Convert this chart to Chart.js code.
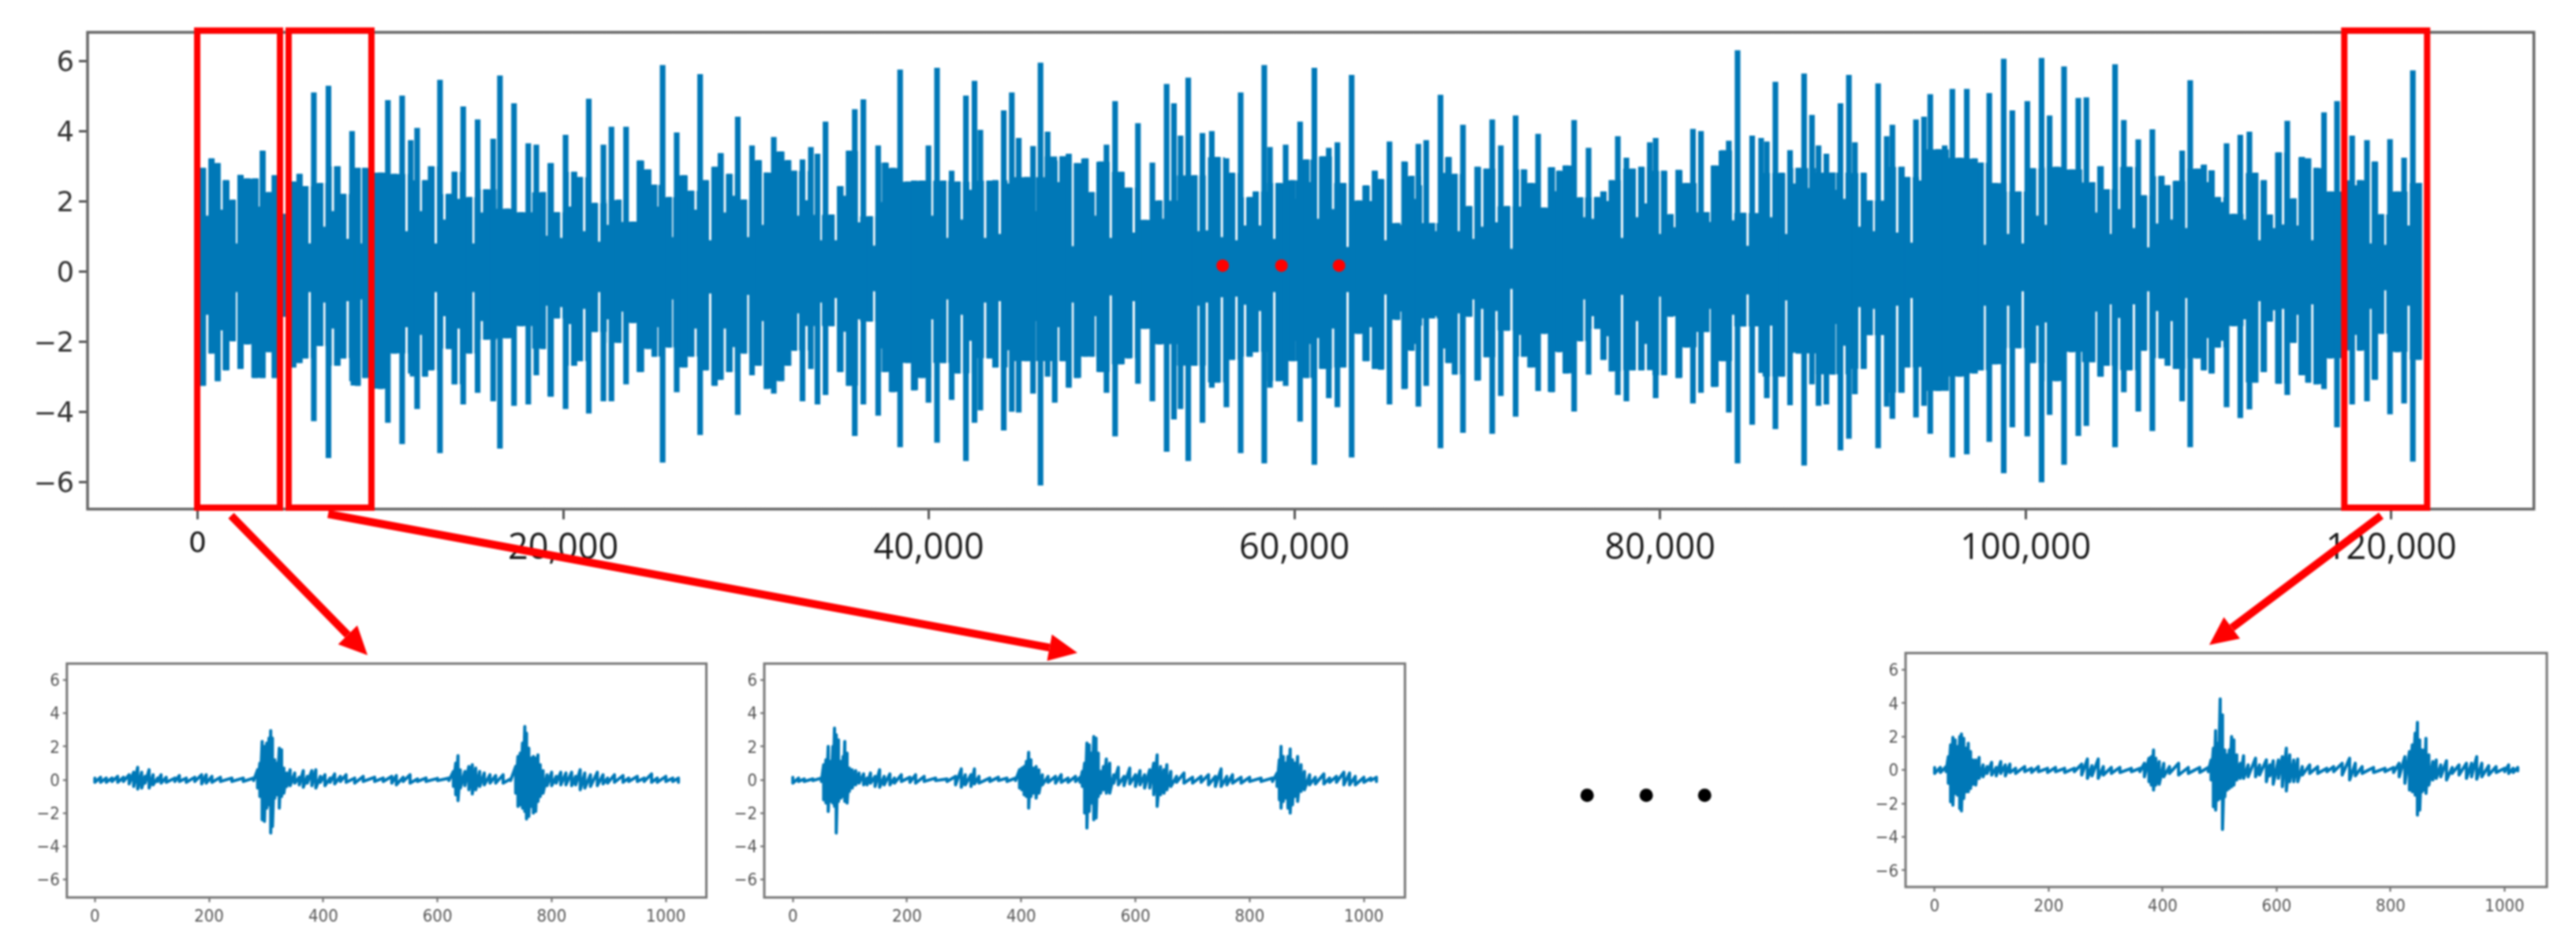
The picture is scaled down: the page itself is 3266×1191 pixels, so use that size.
<!DOCTYPE html>
<html>
<head>
<meta charset="utf-8">
<title>waveform</title>
<script src="https://cdn.jsdelivr.net/npm/chart.js@4/dist/chart.umd.min.js"></script>
<style>
  html, body { margin: 0; padding: 0; background: #fff; }
  body { width: 3266px; height: 1191px; position: relative; overflow: hidden; }
  canvas { position: absolute; display: block; }
  #main { left: 0; top: 0; filter: blur(0.8px); }
  .inset { filter: blur(1px); }
</style>
</head>
<body>
<canvas id="main" width="3266" height="1191"></canvas>
<canvas id="inset1" class="inset" width="900" height="370" style="left:0;top:820px"></canvas>
<canvas id="inset2" class="inset" width="900" height="370" style="left:900px;top:820px"></canvas>
<canvas id="inset3" class="inset" width="900" height="370" style="left:2340px;top:810px"></canvas>
<script>
// top waveform, one column per peak
var columnX = [
  290,760,1110,1550,1940,2330,2720,3160,3550,3900,4210,4680,5230,5580,5910,6360,6720,7160,7660,7980,8450,8760,9150,10020,10410,10770,11190,11660,12010,12450,12760,13260,13750,14050,14530,14880,15320,15790,16170,16540,16920,17310,17700,18090,18530,18910,19320,19660,20130,20600,20920,21400,21730,22200,22640,23040,23440,23820,24210,
  24650,25000,25440,25800,26210,26610,27010,27490,27790,28290,28610,29090,29550,29910,30330,30690,31120,31520,31900,32310,32650,33090,33550,33910,34350,34690,35160,35630,35950,36420,36780,37230,37590,38030,38430,38850,39190,39630,39980,40450,40810,41250,41590,42030,42500,42820,43320,43630,44100,44540,44920,45360,45700,46110,46500,46890,47320,47660,48100,48570,48920,
  49410,49720,50190,50500,50930,51440,51810,52230,52620,53010,53410,53770,54190,54550,54970,55480,55790,56280,56590,57060,57560,57880,58350,58660,59130,59520,59910,60310,60670,61090,61560,61880,62350,62660,63130,63520,63910,64390,64730,65200,65640,66000,66420,66780,67210,67550,67990,68430,68780,69220,69560,70000,70500,70820,71290,71630,72100,72540,72930,73330,73640,
  74080,74470,74860,75300,75650,76090,76560,76900,77340,77690,78160,78500,78970,79440,79760,80200,80590,81000,81450,81800,82240,82550,82970,83440,83760,84240,84560,85040,85530,85840,86310,86660,87110,87570,87880,88310,88670,89100,89450,89870,90330,90660,91130,91490,91930,92400,92710,93220,93530,94000,94440,94780,95220,95570,95990,96380,96780,97210,97560,98010,98310,
  98800,99270,99620,100090,100400,100870,101310,101690,102100,102520,102880,103320,103660,104100,104450,104890,105370,105660,106160,106470,106930,107430,107770,108240,108560,109000,109390,109760,110170,110520,110990,111380,111740,112240,112570,113030,113370,113840,114310,114670,115110,115460,115900,116320,116670,117030,117860,118280,118670,119100,119460,119930,120320,120700,121180,121530
];
var columnHi = [
  2.95,3.22,3.09,2.60,2.04,2.75,2.65,2.65,3.44,2.26,2.74,1.64,2.56,2.78,2.43,5.10,2.52,5.29,3.00,2.21,4.00,2.95,2.95,2.82,4.88,2.78,5.01,3.74,4.09,2.60,3.00,5.46,2.21,2.84,4.70,2.12,4.33,2.34,3.78,5.58,1.79,4.79,1.69,3.65,3.61,2.26,3.09,1.69,3.89,2.84,2.69,4.92,1.95,3.61,4.12,2.04,4.12,1.42,3.16,
  2.91,2.47,5.88,2.12,3.96,2.74,2.30,5.62,2.60,2.98,3.37,2.78,4.41,2.05,3.59,3.17,2.82,3.83,3.42,3.17,2.87,3.19,3.54,3.35,4.27,1.62,2.43,3.44,4.62,4.90,1.57,3.59,3.10,2.95,5.75,2.56,2.59,2.59,3.59,5.80,2.59,2.87,2.56,5.01,5.43,4.03,2.59,2.60,4.59,5.10,3.80,2.69,3.57,5.95,3.98,3.16,3.28,3.35,3.09,3.22,2.26,
  3.13,3.61,4.85,2.84,2.39,4.22,1.47,3.10,2.02,5.34,4.79,3.87,5.52,2.74,3.94,4.00,3.26,3.22,2.81,5.10,2.12,2.28,5.88,3.54,2.52,3.61,2.60,4.27,3.19,5.80,3.28,3.52,3.68,2.52,5.60,2.02,2.45,2.87,2.63,3.70,1.38,3.13,2.72,3.63,3.74,1.38,5.03,3.26,2.78,4.18,1.86,2.98,2.93,4.33,3.59,1.86,4.44,2.91,2.52,3.92,1.82,
  2.97,2.87,3.02,4.31,2.11,3.52,2.12,2.28,2.60,3.85,3.24,2.93,2.98,3.68,3.80,2.87,1.63,2.89,2.52,4.06,4.00,1.69,3.02,3.45,3.72,6.30,1.67,3.87,3.80,3.70,5.40,2.81,3.45,2.95,5.64,4.46,3.59,3.35,2.82,4.79,5.60,3.68,2.81,2.02,5.36,3.85,4.18,2.98,2.69,4.33,4.41,5.05,3.48,3.59,5.20,3.24,5.20,3.22,3.10,5.08,2.52,
  6.06,4.59,2.28,4.85,2.94,6.08,4.44,2.98,5.84,2.91,4.94,4.96,2.54,3.00,2.34,5.90,4.31,2.98,3.76,2.17,4.05,2.72,2.46,2.58,3.44,5.45,2.93,3.04,2.88,2.12,3.65,1.64,3.89,3.98,2.81,2.60,1.62,3.39,4.29,2.08,3.26,3.22,2.95,4.53,2.28,4.85,3.87,2.60,3.74,3.13,1.63,3.77,2.28,3.24,5.73,2.52
];
var columnLo = [
  -3.25,-2.33,-3.12,-2.81,-1.98,-2.77,-2.07,-3.03,-3.03,-2.29,-3.03,-1.28,-2.73,-2.60,-2.47,-4.26,-2.12,-5.31,-2.68,-2.47,-3.12,-3.25,-3.03,-3.34,-4.30,-2.33,-4.91,-2.90,-3.91,-2.99,-2.81,-5.17,-2.20,-3.21,-3.78,-2.33,-3.45,-1.94,-3.69,-5.04,-1.90,-3.82,-1.55,-3.78,-2.95,-2.20,-3.56,-1.33,-3.91,-2.68,-2.55,-4.04,-1.72,-3.69,-3.69,-2.03,-3.21,-1.46,-2.86,
  -2.20,-2.42,-5.44,-2.16,-3.43,-2.73,-2.42,-4.65,-2.81,-3.25,-3.08,-2.86,-4.08,-2.33,-2.95,-2.68,-3.34,-3.47,-3.12,-2.68,-2.25,-3.69,-2.77,-3.78,-3.51,-1.55,-2.86,-3.25,-4.68,-3.78,-1.42,-4.10,-2.86,-3.43,-5.00,-2.60,-3.38,-3.03,-3.73,-4.87,-2.60,-3.65,-2.90,-5.39,-4.30,-3.95,-2.47,-2.73,-4.52,-3.99,-4.01,-2.55,-3.47,-6.09,-2.99,-3.73,-2.55,-3.30,-3.03,-2.42,-2.42,
  -2.86,-3.45,-4.69,-2.64,-2.47,-3.19,-1.63,-3.69,-2.07,-5.13,-4.21,-3.91,-5.39,-2.68,-4.30,-3.30,-3.16,-3.86,-2.51,-5.17,-2.42,-2.29,-5.46,-3.30,-3.12,-3.25,-2.55,-4.27,-3.03,-5.50,-2.77,-3.60,-3.86,-2.73,-5.29,-1.77,-2.55,-2.77,-2.79,-3.78,-1.37,-3.34,-2.25,-3.84,-3.25,-1.33,-5.03,-2.60,-2.93,-4.59,-1.28,-3.10,-2.44,-4.62,-3.54,-1.68,-4.13,-2.42,-2.73,-3.40,-1.77,
  -3.43,-2.29,-2.90,-3.98,-1.98,-2.93,-1.63,-2.51,-2.84,-3.51,-3.69,-2.81,-2.81,-2.77,-3.60,-2.95,-1.28,-3.03,-2.16,-3.75,-3.45,-1.72,-3.28,-2.55,-4.01,-5.46,-1.56,-4.36,-2.88,-3.60,-4.48,-2.99,-3.80,-2.33,-5.52,-3.21,-3.82,-3.78,-2.93,-5.09,-4.76,-3.49,-2.77,-1.81,-5.03,-3.84,-4.19,-3.45,-2.73,-4.15,-3.82,-4.62,-3.40,-3.31,-5.29,-2.99,-5.20,-2.90,-2.81,-4.85,-2.64,
  -5.74,-4.43,-2.18,-4.69,-2.60,-6.00,-4.08,-3.12,-5.50,-2.29,-4.68,-4.39,-2.58,-2.99,-2.68,-5.00,-3.43,-2.81,-3.98,-2.25,-4.54,-2.47,-2.68,-2.77,-3.69,-5.00,-2.47,-2.81,-2.90,-2.16,-3.86,-1.55,-4.17,-3.92,-3.16,-2.86,-1.42,-3.19,-3.51,-2.03,-2.95,-3.16,-3.21,-3.34,-2.47,-4.43,-3.78,-2.25,-3.69,-3.08,-1.77,-4.06,-2.29,-3.75,-5.41,-2.51
];
// thin pale gaps in the body, how far towards zero each one reaches
var notchX = [
  530,1310,2130,3400,6130,6930,7400,8210,8990,11430,12210,13030,13500,14280,15080,15550,16840,19080,19900,20370,21150,21970,22450,23240,
  25150,25955,27240,28040,28840,29330,30110,30930,32840,33310,34090,34910,35400,36180,37010,37470,40180,41000,41800,42280,43080,43880,44370,45800,47080,47870,49090,
  49950,51210,52810,54740,55210,56030,56830,57300,58110,58900,59990,60810,61280,62110,62910,64180,64980,65800,66580,67000,67710,68180,68980,69800,70270,71050,71870,72350,73530,
  74320,75840,76320,77140,77920,78740,79220,80010,80790,82710,84000,84790,86080,86910,87350,88160,89580,90080,90910,91690,92160,92970,93760,94230,97760,
  99040,99840,100640,101110,103850,104640,105110,105920,106710,107190,107980,108790,109940,110750,111220,111980,112790,113580,114080,114860,115680,118050,118860,119660,120950
];
var notchHi = [
  1.60,1.77,.81,1.86,.81,1.29,1.73,.94,.81,1.16,1.73,.81,1.49,2.08,.81,1.69,1.79,1.03,.97,1.86,1.16,.86,1.34,1.42,
  1.86,.99,1.77,.90,1.69,2.17,.99,1.34,1.60,2.04,.90,.90,2.17,1.41,.75,1.99,1.60,.97,1.49,2.34,.97,1.08,2.52,1.73,2.56,.73,1.60,
  .97,1.12,1.51,1.16,1.18,.99,.90,1.32,1.32,.94,2.08,2.56,1.51,1.79,.71,2.02,.90,1.34,2.08,2.47,1.16,2.82,1.16,.94,1.29,1.41,.66,1.86,1.86,
  2.30,1.56,1.51,2.02,.97,1.56,1.95,1.08,1.27,1.42,1.47,.74,1.56,1.08,2.52,2.39,2.34,2.08,1.29,1.16,2.32,1.12,.83,2.60,.77,
  1.08,.81,1.60,1.34,1.69,1.08,1.79,1.25,.70,1.38,1.49,1.25,2.56,1.99,1.69,1.49,.90,1.25,1.35,1.32,.90,2.47,.81,.77,1.32
];
var notchLo = [
  -1.24,-1.68,-.59,null,-.59,-.89,-1.63,-.85,-.80,-1.59,-1.81,-.59,-1.28,-1.63,-.59,-1.42,null,-.98,-1.02,-1.50,-1.07,-.59,-1.37,-1.15,
  -1.59,-.80,-1.63,-.63,-1.63,-2.16,-.67,-1.42,-1.20,-1.56,-.89,-.76,-1.72,-1.37,-.57,-2.20,-1.37,-.80,-1.24,-1.98,-.89,-.85,-2.25,-1.42,-1.59,-.89,-1.28,
  -.69,-.85,null,-.98,-.89,-.74,-.72,-.95,-1.13,-.59,-1.98,-2.07,-1.90,-1.63,-.59,-1.59,-.66,-1.15,-2.07,-1.55,-1.28,-2.20,-1.20,-.80,-1.07,-1.13,-.50,-1.81,-1.77,
  -2.29,-.80,-1.28,-1.85,-.67,-1.42,-2.07,-.72,-1.28,-1.07,-1.24,-.66,-1.55,-.83,-2.32,-2.77,-1.50,-2.12,-1.02,-1.07,-2.32,-.98,-.76,-2.73,-.98,
  -.98,-.57,-1.55,-1.46,-1.15,-.94,-1.33,-.94,-.57,-1.13,-1.42,-.76,-1.90,-1.98,-1.63,-1.37,-.85,-1.11,-1.07,-1.24,-.94,-1.81,-1.07,-.54,-.98
];
// red ". . ." on the waveform and black ". . ." between the small plots
var redDotX = [56075, 59290, 62440];
var redDotY = [0.17, 0.17, 0.17];
var blackDotX = [76010, 79245, 82440];
var blackDotY = [-14.93, -14.93, -14.93];
// red boxes on the waveform
var boxStart = [-20, 4980, 117430];
var boxEnd = [4510, 9510, 121960];
var boxHi = 6.87;
var boxLo = -6.73;

var mainTicksX = [0, 20000, 40000, 60000, 80000, 100000, 120000];
var mainTicksY = [-6, -4, -2, 0, 2, 4, 6];
var insetTicksX = [0, 200, 400, 600, 800, 1000];

var inset1X = [0,10,20,30,40,50,60,68,75,82,88,95,102,110,116,125,140,148,160,175,187,195,205,220,240,260,278,285,289,293,297,301,305,308,311,315,319,323,327,331,336,342,350,358,365,372,380,387,395,403,412,420,430,440,455,470,490,505,520,528,540,552,565,580,600,620,628,632,636,640,648,655,661,667,674,682,692,702,715,728,737,741,745,749,753,756,760,764,768,772,776,780,785,792,800,808,816,825,835,842,850,858,868,880,890,898,910,925,935,950,962,975,985,1000,1012,1022];
var inset1Hi = [.1,.15,.1,.1,.2,.15,.3,.45,.75,.45,.2,.6,.3,.1,.3,.15,.1,.25,.1,.15,.3,.3,.2,.15,.1,.1,.1,.6,1.0,2.3,2.0,2.2,2.5,2.95,2.5,1.2,1.0,1.9,1.8,.7,.4,.6,.4,.15,.55,.2,.55,.6,.2,.3,.1,.35,.2,.3,.1,.2,.15,.1,.2,.25,.15,.3,.05,.1,.08,.1,.5,1.0,1.45,.6,.5,.8,.9,.7,.5,.4,.3,.25,.3,.05,.8,1.4,1.6,2.2,3.2,2.8,1.9,1.3,1.4,1.3,1.5,.9,.55,.3,.45,.2,.45,.4,.45,.2,.6,.4,.3,.45,.3,.1,.3,.25,.1,.2,.1,.35,.1,.2,.1,.1];
var inset1Lo = [-.15,-.15,-.15,-.1,-.15,-.1,-.25,-.4,-.55,-.5,-.2,-.5,-.3,-.1,-.2,-.15,-.1,-.1,-.15,-.1,-.25,-.2,-.15,-.1,-.1,-.1,-.05,-.5,-1.0,-2.4,-2.5,-1.7,-1.5,-3.2,-2.8,-1.1,-.9,-1.7,-1.0,-.8,-.4,-.35,-.2,-.3,-.45,-.2,-.35,-.5,-.15,-.35,-.15,-.25,-.1,-.15,-.2,-.1,-.1,-.1,-.2,-.3,-.1,-.2,-.1,-.1,-.05,-.05,-.4,-.9,-1.25,-.5,-.35,-.6,-.85,-.6,-.4,-.3,-.2,-.2,-.2,-.05,-.8,-1.6,-1.5,-1.7,-1.9,-2.35,-2.2,-1.6,-2.0,-1.9,-1.3,-1.0,-.8,-.35,-.35,-.2,-.3,-.3,-.35,-.3,-.6,-.5,-.4,-.35,-.25,-.2,-.15,-.15,-.1,-.1,-.1,-.15,-.15,-.1,-.1,-.15];

var inset2X = [0,10,20,35,50,54,58,62,66,70,73,76,80,84,88,91,95,99,104,110,116,124,130,136,144,152,160,170,178,190,205,215,230,250,270,285,295,302,312,318,326,345,360,375,390,397,401,405,409,413,417,421,426,431,437,447,460,470,482,495,503,507,511,515,519,523,527,531,535,539,544,549,555,562,570,580,590,600,608,616,625,632,638,644,650,655,662,672,685,700,715,728,740,750,760,770,785,800,820,840,848,852,855,859,863,867,871,875,879,884,890,896,905,915,930,940,952,965,975,985,1000,1012,1022];
var inset2Hi = [.15,.1,.05,.05,.1,.9,1.2,2.0,1.1,2.0,3.1,2.7,2.4,1.1,1.4,2.3,1.6,.7,.6,.55,.4,.35,.1,.4,.2,.6,.2,.35,.1,.3,.15,.3,.2,.1,.05,.2,.65,.3,.3,.65,.2,.1,.15,.1,.1,.6,.7,.8,1.1,1.65,1.2,.7,.8,.6,.3,.2,.2,.3,.1,.2,.15,.5,1.0,2.2,2.1,1.6,2.6,2.5,1.6,.5,.8,1.25,1.0,.3,.75,.2,.7,.3,.55,.3,.6,1.0,1.5,.8,.6,.9,.5,.2,.4,.15,.2,.3,.2,.65,.2,.3,.15,.15,.1,.1,.4,1.2,2.0,1.4,1.0,1.4,1.85,1.2,1.0,1.4,.9,.5,.3,.15,.35,.1,.2,.45,.4,.2,.15,.1,.15];
var inset2Lo = [-.2,-.1,-.1,-.05,-.1,-1.2,-1.4,-1.9,-1.3,-1.4,-1.6,-3.2,-1.3,-1.1,-1.0,-1.3,-1.4,-.7,-.5,-.3,-.2,-.3,-.3,-.2,-.4,-.45,-.3,-.3,-.2,-.1,-.15,-.2,-.1,-.05,-.1,-.3,-.45,-.3,-.4,-.25,-.2,-.1,-.05,-.1,-.05,-.5,-.6,-.9,-1.0,-1.7,-1.0,-.8,-1.1,-.8,-.3,-.15,-.2,-.15,-.15,-.1,-.15,-.4,-2.0,-2.9,-1.9,-1.4,-2.4,-2.3,-1.0,-.8,-.6,-.8,-.8,-.2,-.3,-.35,-.25,-.4,-.3,-.5,-.5,-.9,-1.6,-.9,-.8,-.6,-.4,-.15,-.2,-.2,-.15,-.3,-.4,-.4,-.3,-.2,-.2,-.1,-.1,-.1,-.4,-1.2,-1.7,-1.3,-1.1,-1.7,-2.0,-1.5,-1.0,-1.3,-.7,-.6,-.3,-.25,-.25,-.15,-.15,-.3,-.3,-.3,-.15,-.05,-.1];

var inset3X = [0,10,20,24,28,32,36,40,44,47,51,55,59,63,67,72,78,85,92,100,108,116,124,132,142,158,170,182,198,212,228,245,258,268,276,287,296,310,325,345,360,368,376,380,384,388,394,402,412,428,445,465,480,485,489,493,497,501,505,509,513,517,521,525,530,536,542,550,563,570,582,588,594,603,610,617,623,630,637,645,658,672,688,700,715,728,738,750,770,790,805,815,825,833,838,843,847,851,855,859,862,867,874,880,888,898,908,920,933,942,951,960,972,985,1000,1007,1015,1023];
var inset3Hi = [.15,.15,.2,.8,1.5,1.95,1.8,1.4,2.0,2.15,1.9,1.3,1.6,1.1,.6,.6,.75,.3,.2,.45,.15,.5,.3,.35,.1,.2,.1,.2,.1,.15,.1,.1,.35,.65,.25,.65,.2,.15,.15,.1,.1,.4,.7,.8,1.2,.7,.5,.4,.2,.4,.15,.15,.15,.6,1.3,2.35,1.6,4.25,3.3,1.2,.9,1.2,2.0,1.8,.9,.4,.85,.3,.7,.3,.6,.3,.55,.6,.8,1.3,.9,.6,.65,.2,.3,.2,.1,.2,.4,.7,.4,.2,.15,.1,.15,.4,.8,1.1,1.5,2.2,2.85,1.8,1.2,1.2,1.9,.9,.5,.6,.3,.55,.15,.3,.4,.4,.8,.4,.25,.2,.1,.3,.1,.15];
var inset3Lo = [-.2,-.15,-.1,-.8,-1.9,-2.1,-1.4,-1.5,-2.3,-2.45,-1.7,-1.3,-1.3,-1.1,-.85,-.9,-.5,-.4,-.2,-.3,-.35,-.2,-.35,-.15,-.2,-.1,-.15,-.1,-.15,-.1,-.15,-.1,-.3,-.5,-.35,-.5,-.3,-.2,-.15,-.1,-.1,-.4,-.7,-.9,-1.2,-.9,-.85,-.4,-.2,-.3,-.2,-.15,-.1,-.6,-2.2,-2.4,-1.8,-1.7,-3.55,-1.6,-1.2,-1.1,-1.0,-.9,-.6,-.5,-.5,-.4,-.4,-.3,-.7,-.35,-.85,-.5,-1.0,-1.25,-.7,-.7,-.7,-.3,-.2,-.2,-.1,-.1,-.3,-.6,-.35,-.2,-.15,-.1,-.15,-.4,-.8,-1.2,-1.3,-1.5,-2.7,-2.4,-1.3,-1.2,-1.4,-.9,-.6,-.5,-.4,-.6,-.2,-.3,-.5,-.4,-.55,-.4,-.3,-.15,-.1,-.2,-.15,-.05];

var BLUE = '#0078b7';
var RED = '#ff0000';

function minus(v) {
  return String(v).replace('-', '\u2212');
}

function fixedTicks(list) {
  return function (s) {
    s.ticks = list.map(function (v) { return { value: v }; });
  };
}

// full box round the plot area, chart.js only gives left and bottom
var framePlugin = {
  id: 'frame',
  afterDatasetsDraw: function (chart, args, opts) {
    var a = chart.chartArea, c = chart.ctx;
    c.save();
    c.strokeStyle = opts.color;
    c.lineWidth = opts.width;
    c.strokeRect(a.left, a.top, a.right - a.left, a.bottom - a.top);
    c.restore();
  }
};

function arrow(c, x0, y0, x1, y1) {
  var a = Math.atan2(y1 - y0, x1 - x0);
  var head = 36, half = 17;
  var bx = x1 - Math.cos(a) * head, by = y1 - Math.sin(a) * head;
  c.lineWidth = 10;
  c.beginPath();
  c.moveTo(x0, y0);
  c.lineTo(bx, by);
  c.stroke();
  c.beginPath();
  c.moveTo(x1, y1);
  c.lineTo(bx - Math.sin(a) * half, by + Math.cos(a) * half);
  c.lineTo(bx + Math.sin(a) * half, by - Math.cos(a) * half);
  c.closePath();
  c.fill();
}

var calloutPlugin = {
  id: 'callouts',
  afterDraw: function (chart) {
    var c = chart.ctx, x = chart.scales.x, y = chart.scales.y;
    var i;
    c.save();
    c.strokeStyle = RED;
    c.fillStyle = RED;
    c.lineWidth = 8;
    for (i = 0; i < boxStart.length; i++) {
      var l = x.getPixelForValue(boxStart[i]), r = x.getPixelForValue(boxEnd[i]);
      var t = y.getPixelForValue(boxHi), b = y.getPixelForValue(boxLo);
      c.strokeRect(l, t, r - l, b - t);
    }
    arrow(c, 293, 654, 466, 831);
    arrow(c, 416, 652, 1366, 828);
    arrow(c, 3019, 654, 2801, 818);
    // points below the plot area are not drawn by the scatter element
    c.fillStyle = '#000';
    for (i = 0; i < blackDotX.length; i++) {
      c.beginPath();
      c.arc(x.getPixelForValue(blackDotX[i]), y.getPixelForValue(blackDotY[i]), 8.5, 0, Math.PI * 2);
      c.fill();
    }
    c.restore();
  }
};

// body of the waveform: the columns that are not lone spikes, as one stepped area
var bodyHi = [], bodyLo = [];
columnX.forEach(function (x, i) {
  if (columnHi[i] < 3.5 && columnLo[i] > -3.6) {
    bodyHi.push({ x: x, y: columnHi[i] });
    bodyLo.push({ x: x, y: columnLo[i] });
  }
});

var notchData = [];
notchX.forEach(function (x, i) {
  notchData.push({ x: x, y: [notchHi[i], 7] });
  if (notchLo[i] !== null) notchData.push({ x: x, y: [-7, notchLo[i]] });
});

new Chart(document.getElementById('main'), {
  type: 'bar',
  data: {
    datasets: [
      {
        type: 'scatter', data: redDotX.map(function (x, i) { return { x: x, y: redDotY[i] }; }),
        pointRadius: 8, backgroundColor: RED, borderWidth: 0, order: 0
      },
      {
        data: columnX.map(function (x, i) { return { x: x, y: [columnLo[i], columnHi[i]] }; }),
        backgroundColor: BLUE, barThickness: 6.5, grouped: false, order: 1
      },
      {
        data: notchData, backgroundColor: '#fff', barThickness: 2.2, grouped: false, order: 2
      },
      {
        type: 'line', data: bodyHi, stepped: 'middle', borderWidth: 0, pointRadius: 0,
        fill: { target: '+1' }, backgroundColor: BLUE, order: 3
      },
      {
        type: 'line', data: bodyLo, stepped: 'middle', borderWidth: 0, pointRadius: 0,
        fill: false, order: 3
      }
    ]
  },
  options: {
    responsive: false,
    animation: false,
    devicePixelRatio: 1,
    layout: { padding: { left: 0, top: 41, right: 53.4, bottom: 465.3 } },
    plugins: {
      legend: { display: false },
      tooltip: { enabled: false },
      frame: { color: '#666', width: 3.5 }
    },
    scales: {
      x: {
        type: 'linear', min: -6019, max: 127800, offset: false,
        afterBuildTicks: fixedTicks(mainTicksX),
        afterFit: function (s) { s.height = 80; s.paddingLeft = 0; s.paddingRight = 0; },
        grid: { drawOnChartArea: false, drawTicks: true, tickLength: 13, tickColor: '#555', tickWidth: 3, offset: false },
        border: { display: false },
        ticks: {
          autoSkip: false, maxRotation: 0, padding: 10, color: '#1a1a1a',
          font: function (ctx) {
            if (ctx.tick && ctx.tick.value === 0) return { family: 'DejaVu Sans', size: 36 };
            return { family: 'Open Sans', size: 45 };
          },
          callback: function (v) { return v.toLocaleString('en-US'); }
        }
      },
      y: {
        min: -6.77, max: 6.82,
        afterBuildTicks: fixedTicks(mainTicksY),
        afterFit: function (s) { s.width = 111; s.paddingTop = 0; s.paddingBottom = 0; },
        grid: { drawOnChartArea: false, drawTicks: true, tickLength: 11, tickColor: '#555', tickWidth: 3 },
        border: { display: false },
        ticks: {
          padding: 6, color: '#333', labelOffset: 3,
          font: { family: 'DejaVu Sans', size: 35 },
          callback: function (v) { return minus(v); }
        }
      }
    }
  },
  plugins: [framePlugin, calloutPlugin]
});

function smallPlot(id, xs, hi, lo, pad, xMin, xMax, yMin, yMax) {
  var pts = [];
  xs.forEach(function (x, i) {
    pts.push({ x: x, y: hi[i] });
    pts.push({ x: x, y: lo[i] });
  });
  new Chart(document.getElementById(id), {
    type: 'line',
    data: { datasets: [{ data: pts, borderColor: BLUE, borderWidth: 4, borderJoinStyle: 'round', pointRadius: 0, tension: 0 }] },
    options: {
      responsive: false,
      animation: false,
      devicePixelRatio: 1,
      layout: { padding: pad },
      plugins: {
        legend: { display: false },
        tooltip: { enabled: false },
        frame: { color: '#777', width: 3 }
      },
      scales: {
        x: {
          type: 'linear', min: xMin, max: xMax,
          afterBuildTicks: fixedTicks(insetTicksX),
          afterFit: function (s) { s.height = 45; s.paddingLeft = 0; s.paddingRight = 0; },
          grid: { drawOnChartArea: false, drawTicks: true, tickLength: 6, tickColor: '#666', tickWidth: 2 },
          border: { display: false },
          ticks: {
            padding: 6, color: '#555', autoSkip: false, maxRotation: 0,
            font: { family: 'DejaVu Sans Condensed', size: 22 },
            callback: function (v) { return String(v); }
          }
        },
        y: {
          min: yMin, max: yMax,
          afterBuildTicks: fixedTicks(mainTicksY),
          afterFit: function (s) { s.width = pad.axis; s.paddingTop = 0; s.paddingBottom = 0; },
          grid: { drawOnChartArea: false, drawTicks: true, tickLength: 5, tickColor: '#666', tickWidth: 2 },
          border: { display: false },
          ticks: {
            padding: 4, color: '#555', labelOffset: 2,
            font: { family: 'DejaVu Sans Condensed', size: 22 },
            callback: function (v) { return minus(v); }
          }
        }
      }
    },
    plugins: [framePlugin]
  });
}

// layout padding keeps each plot box where it sits in the figure
smallPlot('inset1', inset1X, inset1Hi, inset1Lo,
  { axis: 84.8, left: 0, top: 21.7, right: 4.4, bottom: 6.7 }, -49, 1071, -7.07, 6.98);
smallPlot('inset2', inset2X, inset2Hi, inset2Lo,
  { axis: 69, left: 0, top: 21.7, right: 18.7, bottom: 6.7 }, -50, 1072, -7.07, 6.98);
smallPlot('inset3', inset3X, inset3Hi, inset3Lo,
  { axis: 76, left: 0, top: 18.3, right: 11, bottom: 10 }, -51, 1074, -7.0, 7.0);
</script>
</body>
</html>
